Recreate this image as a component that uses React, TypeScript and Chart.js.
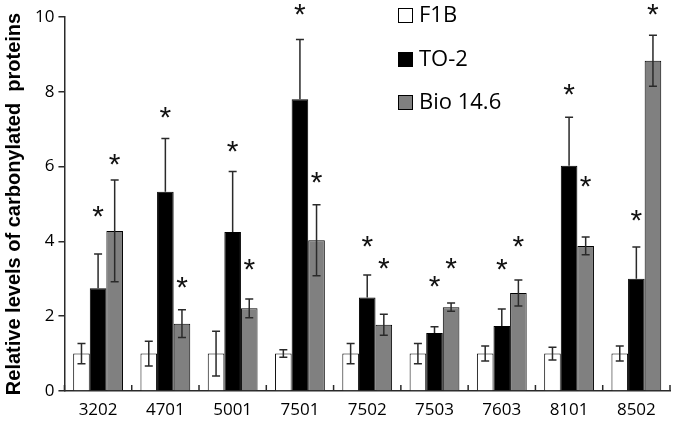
import React, { useEffect, useRef } from "react";
import { Chart, registerables } from "chart.js";

Chart.register(...registerables);

const categories = ["3202", "4701", "5001", "7501", "7502", "7503", "7603", "8101", "8502"];
const seriesNames = ["F1B", "TO-2", "Bio 14.6"];
const f1b = [1.0, 1.0, 1.0, 1.0, 1.0, 1.0, 1.0, 1.0, 1.0];
const to2 = [2.75, 5.33, 4.25, 7.8, 2.5, 1.55, 1.74, 6.02, 3.0];
const bio = [4.28, 1.8, 2.21, 4.03, 1.77, 2.24, 2.62, 3.88, 8.83];
const f1bErr = [0.27, 0.33, 0.6, 0.1, 0.27, 0.27, 0.2, 0.17, 0.2];
const to2Err = [0.91, 1.42, 1.62, 1.6, 0.6, 0.17, 0.45, 1.3, 0.85];
const bioErr = [1.36, 0.37, 0.25, 0.95, 0.28, 0.11, 0.35, 0.24, 0.68];
const to2Star = [4.8, 7.45, 6.55, 10.2, 4.0, 2.93, 3.37, 8.05, 4.7];
const bioStar = [6.2, 2.9, 3.37, 5.7, 3.4, 3.4, 4.0, 5.6, 10.2];
const yTicks = [0, 2, 4, 6, 8, 10];
const yTitle = "Relative levels of carbonylated  proteins";

const colors = ["#ffffff", "#000000", "#808080"];
const errs = [f1bErr, to2Err, bioErr];
const stars = [null, to2Star, bioStar];

const errorBarPlugin = {
  id: "errorBars",
  afterDatasetsDraw(chart: any) {
    const ctx = chart.ctx;
    const yScale = chart.scales.y;
    ctx.save();
    ctx.strokeStyle = "#2a2a2a";
    ctx.lineWidth = 1.5;
    chart.data.datasets.forEach((ds: any, i: number) => {
      const meta = chart.getDatasetMeta(i);
      meta.data.forEach((bar: any, j: number) => {
        const v = ds.data[j];
        const e = errs[i][j];
        const x = bar.x;
        const yt = yScale.getPixelForValue(v + e);
        const yb = yScale.getPixelForValue(v - e);
        const yv = yScale.getPixelForValue(v);
        const dark = colors[i] === "#000000";
        ctx.beginPath();
        ctx.moveTo(x, yt);
        ctx.lineTo(x, dark ? yv : yb);
        ctx.moveTo(x - 4, yt);
        ctx.lineTo(x + 4, yt);
        if (!dark) {
          ctx.moveTo(x - 4, yb);
          ctx.lineTo(x + 4, yb);
        }
        ctx.stroke();
      });
    });
    // stars
    ctx.fillStyle = "#111";
    ctx.font = "30px 'Liberation Sans'";
    ctx.textAlign = "center";
    ctx.textBaseline = "alphabetic";
    const m = ctx.measureText("*");
    const off = (m.actualBoundingBoxAscent - m.actualBoundingBoxDescent) / 2;
    chart.data.datasets.forEach((ds: any, i: number) => {
      const s = stars[i];
      if (!s) return;
      const meta = chart.getDatasetMeta(i);
      meta.data.forEach((bar: any, j: number) => {
        const cy = yScale.getPixelForValue(s[j]);
        ctx.fillText("*", bar.x, cy + off);
      });
    });
    // x-axis inside tick marks at category boundaries
    const xScale = chart.scales.x;
    const base = yScale.getPixelForValue(0);
    ctx.strokeStyle = "#2a2a2a";
    ctx.lineWidth = 1.5;
    for (let k = 0; k <= categories.length; k++) {
      const x = xScale.left + (k * (xScale.right - xScale.left)) / categories.length;
      ctx.beginPath();
      ctx.moveTo(x, base);
      ctx.lineTo(x, base - 6);
      ctx.stroke();
    }
    ctx.restore();
  },
};

const legendPlugin = {
  id: "customLegend",
  afterDraw(chart: any) {
    const ctx = chart.ctx;
    ctx.save();
    ctx.font = "22px 'Open Sans'";
    ctx.textBaseline = "middle";
    ctx.textAlign = "left";
    const ys = [15, 59, 102];
    seriesNames.forEach((name, i) => {
      const y = ys[i];
      ctx.fillStyle = colors[i];
      ctx.fillRect(398, y - 7, 14, 14);
      ctx.strokeStyle = "#000";
      ctx.lineWidth = 1;
      ctx.strokeRect(398.5, y - 6.5, 14, 14);
      ctx.fillStyle = "#000";
      ctx.fillText(name, 419, y + 1);
    });
    ctx.restore();
  },
};

export default function App() {
  const ref = useRef<HTMLCanvasElement>(null);
  useEffect(() => {
    if (!ref.current) return;
    const chart = new Chart(ref.current, {
      type: "bar",
      data: {
        labels: categories,
        datasets: [f1b, to2, bio].map((d, i) => ({
          label: seriesNames[i],
          data: d,
          backgroundColor: colors[i],
          borderColor: "#000",
          borderWidth: 1,
          categoryPercentage: 0.74,
          barPercentage: 1.0,
        })),
      },
      options: {
        animation: false,
        responsive: false,
        devicePixelRatio: 1,
        layout: { padding: { top: 17, right: 5, left: 2, bottom: 0 } },
        plugins: { legend: { display: false }, tooltip: { enabled: false } },
        scales: {
          x: {
            grid: { display: false, drawTicks: false, offset: true },
            border: { color: "#2a2a2a", width: 1.5 },
            ticks: { color: "#000", font: { size: 17, family: "'Open Sans'" }, padding: 9 },
            afterFit: (scale: any) => {
              scale.height = 32;
            },
          },
          y: {
            min: 0,
            max: 10,
            afterBuildTicks: (axis: any) => {
              axis.ticks = yTicks.map((v) => ({ value: v }));
            },
            grid: { drawOnChartArea: false, tickLength: 6, color: "#2a2a2a", lineWidth: 1.5 },
            border: { color: "#2a2a2a", width: 1.5 },
            ticks: { color: "#000", font: { size: 17, family: "'Open Sans'" }, padding: 4 },
            title: {
              display: true,
              text: yTitle,
              color: "#000",
              font: { size: 20, weight: "bold", family: "'Liberation Sans'" },
              padding: { top: 0, bottom: 5 },
            },
          },
        },
      },
      plugins: [errorBarPlugin, legendPlugin],
    });
    return () => chart.destroy();
  }, []);
  return (
    <div style={{ position: "fixed", left: 0, top: 0, width: 675, height: 423, background: "#fff" }}>
      <canvas ref={ref} width={675} height={423} />
    </div>
  );
}
